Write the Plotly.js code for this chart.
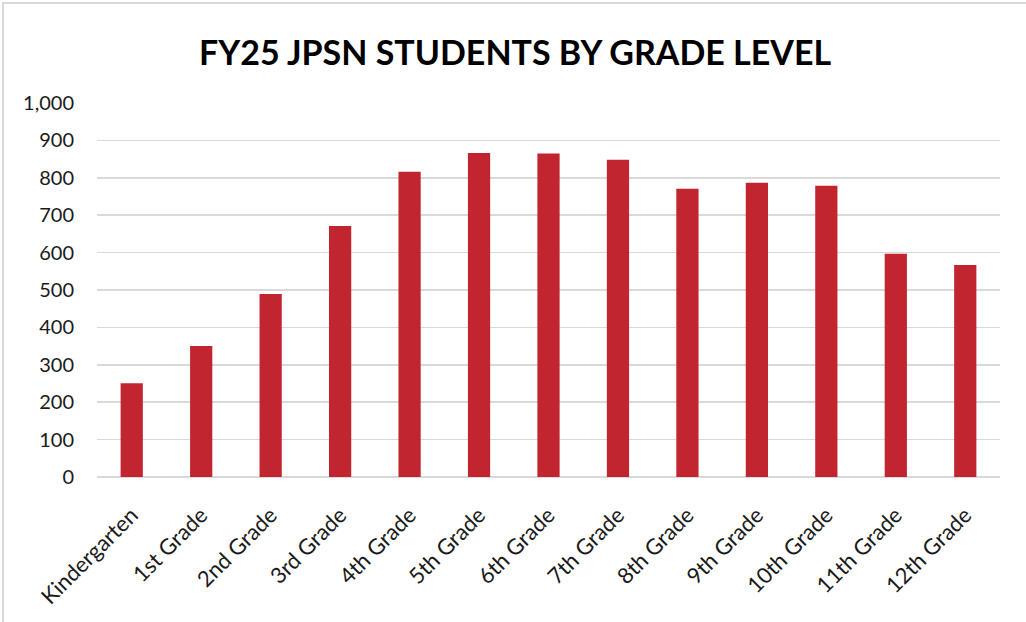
<!DOCTYPE html>
<html>
<head>
<meta charset="utf-8">
<script src="https://cdn.plot.ly/plotly-3.0.1.min.js"></script>
<style>
  html, body { margin: 0; padding: 0; background: #fff; }
  #wrap { position: relative; width: 1026px; height: 622px; }
  #chart { width: 1026px; height: 622px; }
  #frame { position: absolute; left: 2px; top: 2px; right: 0; bottom: 0;
           border-left: 2px solid #d9d9d9; border-top: 2px solid #d9d9d9; pointer-events: none; }
</style>
</head>
<body>
<div id="wrap">
  <div id="chart"></div>
  <div id="frame"></div>
</div>
<script>
const grades = ["Kindergarten", "1st Grade", "2nd Grade", "3rd Grade", "4th Grade", "5th Grade",
  "6th Grade", "7th Grade", "8th Grade", "9th Grade", "10th Grade", "11th Grade", "12th Grade"];
const students = [251, 350, 489, 671, 816, 866, 865, 848, 771, 787, 779, 597, 567];
const yTicks = [0, 100, 200, 300, 400, 500, 600, 700, 800, 900, 1000];
const yTickLabels = ["0", "100", "200", "300", "400", "500", "600", "700", "800", "900", "1,000"];

const trace = {
  type: "bar",
  x: grades,
  y: students,
  marker: { color: "#c1252f" },
  hoverinfo: "x+y"
};

const layout = {
  width: 1026,
  height: 622,
  margin: { l: 97, r: 26, t: 103, b: 145 },
  paper_bgcolor: "#ffffff",
  plot_bgcolor: "#ffffff",
  bargap: 0.68,
  showlegend: false,
  title: {
    text: "<b>FY25 JPSN STUDENTS BY GRADE LEVEL</b>",
    font: { family: "Lato, 'Open Sans', sans-serif", size: 34, color: "#000000" },
    x: 0.502,
    xanchor: "center",
    y: 0.915,
    yanchor: "middle"
  },
  font: { family: "Lato, 'Open Sans', sans-serif", size: 20, color: "#1a1a1a" },
  xaxis: {
    type: "category",
    tickangle: -45,
    showgrid: false,
    showline: false,
    zeroline: false,
    ticks: "",
    ticklabelstandoff: 20,
    tickfont: { size: 22, color: "#1a1a1a" }
  },
  yaxis: {
    range: [0, 1000],
    tickvals: yTicks,
    ticktext: yTickLabels,
    showgrid: true,
    gridcolor: "#d9d9d9",
    gridwidth: 1.5,
    zeroline: true,
    zerolinecolor: "#d9d9d9",
    zerolinewidth: 1.5,
    showline: false,
    ticks: "",
    ticklabelstandoff: 22,
    tickfont: { size: 20, color: "#1a1a1a" }
  }
};

Plotly.newPlot("chart", [trace], layout, { displayModeBar: false, staticPlot: true });
</script>
</body>
</html>
